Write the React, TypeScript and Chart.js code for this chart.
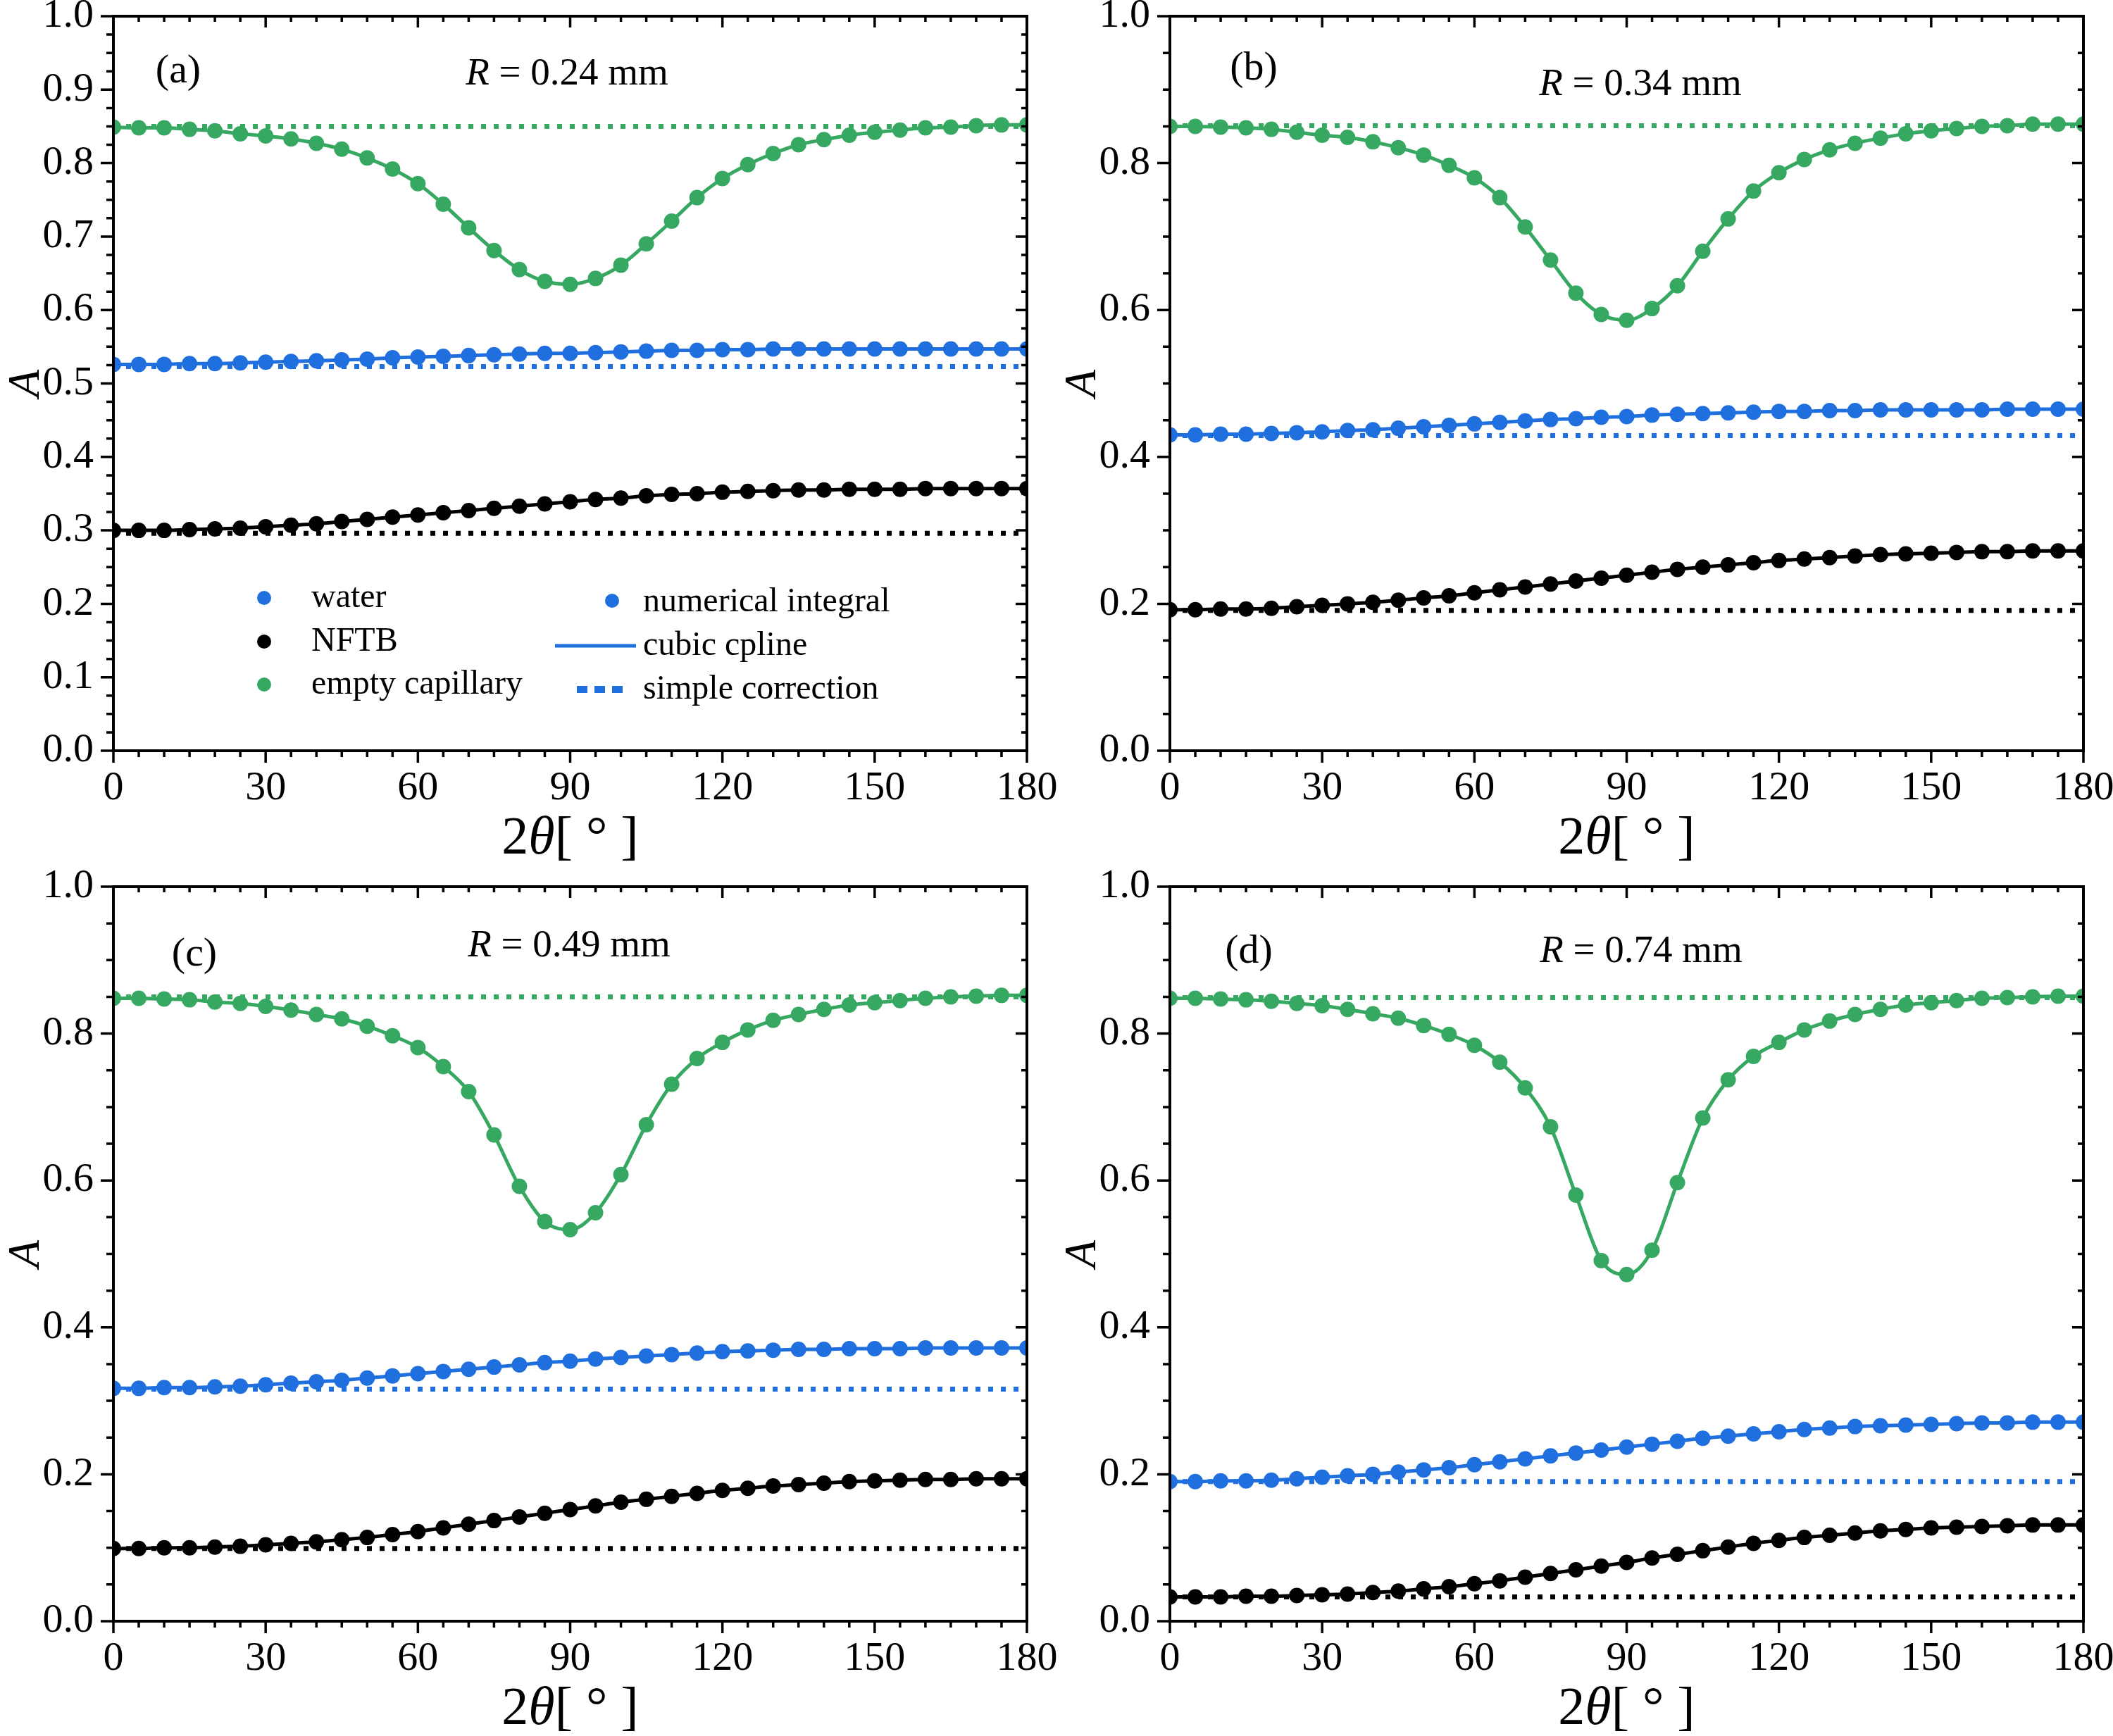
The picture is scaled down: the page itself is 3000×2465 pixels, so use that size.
import { useEffect, useRef } from "react";
import { Chart, registerables } from "chart.js";

Chart.register(...registerables);

// scattering angle 2θ in degrees
const ANGLES = [
  0, 5, 10, 15, 20, 25, 30, 35, 40, 45, 50, 55, 60, 65, 70, 75, 80, 85, 90,
  95, 100, 105, 110, 115, 120, 125, 130, 135, 140, 145, 150, 155, 160, 165, 170, 175, 180,
];

// (a) R = 0.24 mm
const WATER_A = [
  0.526, 0.526, 0.526, 0.527, 0.527, 0.528, 0.529, 0.530, 0.531, 0.532, 0.533, 0.535, 0.536,
  0.537, 0.538, 0.539, 0.540, 0.541, 0.541, 0.542, 0.543, 0.544, 0.545, 0.545, 0.546, 0.546,
  0.547, 0.547, 0.547, 0.547, 0.547, 0.547, 0.547, 0.547, 0.547, 0.547, 0.547,
];
const NFTB_A = [
  0.300, 0.300, 0.300, 0.301, 0.302, 0.303, 0.305, 0.307, 0.309, 0.312, 0.315, 0.318, 0.321,
  0.324, 0.327, 0.330, 0.333, 0.336, 0.339, 0.342, 0.344, 0.347, 0.349, 0.350, 0.352, 0.353,
  0.354, 0.355, 0.355, 0.356, 0.356, 0.356, 0.357, 0.357, 0.357, 0.357, 0.357,
];
const EMPTY_A = [
  0.849, 0.848, 0.848, 0.846, 0.844, 0.840, 0.837, 0.833, 0.827, 0.819, 0.807, 0.792, 0.772,
  0.744, 0.712, 0.681, 0.655, 0.639, 0.635, 0.643, 0.661, 0.690, 0.721, 0.753, 0.779, 0.798,
  0.813, 0.825, 0.832, 0.838, 0.842, 0.845, 0.848, 0.849, 0.851, 0.852, 0.852,
];

// (b) R = 0.34 mm
const WATER_B = [
  0.430, 0.430, 0.431, 0.431, 0.432, 0.433, 0.434, 0.436, 0.437, 0.439, 0.441, 0.443, 0.445,
  0.447, 0.449, 0.451, 0.452, 0.454, 0.455, 0.457, 0.458, 0.459, 0.460, 0.461, 0.462, 0.462,
  0.463, 0.463, 0.464, 0.464, 0.464, 0.464, 0.464, 0.465, 0.465, 0.465, 0.465,
];
const NFTB_B = [
  0.192, 0.192, 0.193, 0.193, 0.194, 0.196, 0.198, 0.200, 0.202, 0.205, 0.208, 0.211, 0.215,
  0.219, 0.223, 0.227, 0.231, 0.235, 0.239, 0.243, 0.247, 0.250, 0.253, 0.256, 0.259, 0.261,
  0.263, 0.265, 0.267, 0.268, 0.269, 0.270, 0.271, 0.271, 0.272, 0.272, 0.272,
];
const EMPTY_B = [
  0.850, 0.850, 0.849, 0.848, 0.846, 0.842, 0.838, 0.835, 0.829, 0.821, 0.811, 0.797, 0.780,
  0.753, 0.713, 0.668, 0.623, 0.594, 0.586, 0.602, 0.633, 0.680, 0.724, 0.762, 0.787, 0.805,
  0.818, 0.827, 0.834, 0.840, 0.844, 0.847, 0.850, 0.851, 0.853, 0.853, 0.853,
];

// (c) R = 0.49 mm
const WATER_C = [
  0.317, 0.317, 0.318, 0.318, 0.319, 0.320, 0.322, 0.324, 0.326, 0.328, 0.331, 0.334, 0.337,
  0.340, 0.343, 0.346, 0.349, 0.352, 0.354, 0.357, 0.359, 0.361, 0.363, 0.365, 0.367, 0.368,
  0.369, 0.370, 0.370, 0.371, 0.371, 0.371, 0.372, 0.372, 0.372, 0.372, 0.372,
];
const NFTB_C = [
  0.099, 0.099, 0.100, 0.100, 0.101, 0.102, 0.104, 0.106, 0.108, 0.111, 0.114, 0.118, 0.122,
  0.127, 0.132, 0.137, 0.142, 0.147, 0.152, 0.157, 0.162, 0.166, 0.170, 0.174, 0.178, 0.181,
  0.184, 0.186, 0.188, 0.190, 0.191, 0.192, 0.193, 0.193, 0.194, 0.194, 0.194,
];
const EMPTY_C = [
  0.848, 0.848, 0.847, 0.846, 0.843, 0.841, 0.837, 0.832, 0.826, 0.820, 0.810, 0.797, 0.781,
  0.755, 0.721, 0.662, 0.592, 0.544, 0.533, 0.556, 0.608, 0.676, 0.731, 0.766, 0.788, 0.805,
  0.818, 0.826, 0.833, 0.839, 0.842, 0.845, 0.848, 0.850, 0.851, 0.852, 0.852,
];

// (d) R = 0.74 mm
const WATER_D = [
  0.190, 0.190, 0.191, 0.191, 0.192, 0.194, 0.196, 0.198, 0.200, 0.203, 0.206, 0.209, 0.213,
  0.217, 0.221, 0.225, 0.229, 0.233, 0.237, 0.241, 0.245, 0.249, 0.252, 0.255, 0.258, 0.261,
  0.263, 0.265, 0.266, 0.267, 0.268, 0.269, 0.270, 0.270, 0.271, 0.271, 0.271,
];
const NFTB_D = [
  0.033, 0.033, 0.033, 0.034, 0.034, 0.035, 0.036, 0.037, 0.039, 0.041, 0.044, 0.047, 0.051,
  0.055, 0.060, 0.065, 0.070, 0.075, 0.080, 0.086, 0.091, 0.096, 0.101, 0.106, 0.110, 0.114,
  0.117, 0.120, 0.123, 0.125, 0.127, 0.128, 0.129, 0.130, 0.131, 0.131, 0.131,
];
const EMPTY_D = [
  0.848, 0.848, 0.847, 0.846, 0.844, 0.841, 0.838, 0.833, 0.827, 0.821, 0.811, 0.799, 0.784,
  0.761, 0.726, 0.673, 0.580, 0.491, 0.472, 0.505, 0.597, 0.685, 0.737, 0.769, 0.788, 0.805,
  0.817, 0.826, 0.833, 0.839, 0.842, 0.845, 0.848, 0.849, 0.850, 0.851, 0.851,
];

// simple correction levels: water, NFTB, empty capillary
const SIMPLE_A = [0.523, 0.296, 0.850];
const SIMPLE_B = [0.429, 0.191, 0.851];
const SIMPLE_C = [0.316, 0.099, 0.850];
const SIMPLE_D = [0.190, 0.033, 0.849];

const PANEL_TAGS = ["(a)", "(b)", "(c)", "(d)"];
const RADII = ["0.24", "0.34", "0.49", "0.74"];
const Y_MAJOR = [0.1, 0.2, 0.2, 0.2];
const Y_MINOR = [0.025, 0.05, 0.05, 0.05];
const X_MAJOR = 30;
const X_MINOR = 5;

const SERIES_NAMES = ["water", "NFTB", "empty capillary"];
const METHOD_NAMES = ["numerical integral", "cubic cpline", "simple correction"];

const BLUE = "#1f6fdf";
const BLACK = "#000000";
const GREEN = "#37a862";
const COLORS = [BLUE, BLACK, GREEN];
const SERIF = "'Liberation Serif', 'Times New Roman', serif";

const PANELS = [
  { values: [WATER_A, NFTB_A, EMPTY_A], simple: SIMPLE_A },
  { values: [WATER_B, NFTB_B, EMPTY_B], simple: SIMPLE_B },
  { values: [WATER_C, NFTB_C, EMPTY_C], simple: SIMPLE_C },
  { values: [WATER_D, NFTB_D, EMPTY_D], simple: SIMPLE_D },
];

// layout per panel (canvas box + annotation spots, all in px)
const BOXES = [
  { left: 0, top: 0, width: 1500, height: 1232, areaTop: 23, areaBottom: 1066, tag: [253, 102], r: [805, 106] },
  { left: 1500, top: 0, width: 1500, height: 1232, areaTop: 23, areaBottom: 1066, tag: [280, 98], r: [829, 121] },
  { left: 0, top: 1232, width: 1500, height: 1233, areaTop: 27, areaBottom: 1070, tag: [276, 124], r: [808, 112] },
  { left: 1500, top: 1232, width: 1500, height: 1233, areaTop: 27, areaBottom: 1070, tag: [273, 120], r: [830, 120] },
];

const AREA_LEFT = 161;
const AREA_RIGHT_PAD = 42;

function drawFrame(chart: any, yMajor: number, yMinor: number) {
  const { ctx, chartArea: a, scales } = chart;
  const xs = scales.x;
  const ys = scales.y;
  ctx.save();
  ctx.strokeStyle = "#000";
  ctx.lineCap = "butt";
  ctx.lineWidth = 3.5;
  ctx.beginPath();
  const nx = Math.round((xs.max - xs.min) / X_MINOR);
  const px = Math.round(X_MAJOR / X_MINOR);
  for (let k = 0; k <= nx; k++) {
    const p = xs.getPixelForValue(xs.min + k * X_MINOR);
    const major = k % px === 0;
    ctx.moveTo(p, a.bottom);
    ctx.lineTo(p, a.bottom + (major ? 17 : 9));
    ctx.moveTo(p, a.top);
    ctx.lineTo(p, a.top + (major ? 16 : 8));
  }
  const ny = Math.round((ys.max - ys.min) / yMinor);
  const py = Math.round(yMajor / yMinor);
  for (let k = 0; k <= ny; k++) {
    const p = ys.getPixelForValue(ys.min + k * yMinor);
    const major = k % py === 0;
    ctx.moveTo(a.left, p);
    ctx.lineTo(a.left - (major ? 18 : 10), p);
    ctx.moveTo(a.right, p);
    ctx.lineTo(a.right - (major ? 16 : 8), p);
  }
  ctx.stroke();
  ctx.lineWidth = 4;
  ctx.strokeRect(a.left, a.top, a.right - a.left, a.bottom - a.top);
  ctx.restore();
}

function drawTexts(chart: any, idx: number) {
  const { ctx, chartArea: a } = chart;
  const box = BOXES[idx];
  ctx.save();
  ctx.fillStyle = "#000";
  ctx.textBaseline = "middle";

  // panel tag
  ctx.font = `58px ${SERIF}`;
  ctx.textAlign = "center";
  ctx.fillText(PANEL_TAGS[idx], box.tag[0], box.tag[1]);

  // R = ... mm
  ctx.textAlign = "left";
  const rest = ` = ${RADII[idx]} mm`;
  ctx.font = `italic 55px ${SERIF}`;
  const wR = ctx.measureText("R").width;
  ctx.font = `55px ${SERIF}`;
  const wRest = ctx.measureText(rest).width;
  const x0 = box.r[0] - (wR + wRest) / 2;
  ctx.font = `italic 55px ${SERIF}`;
  ctx.fillText("R", x0, box.r[1]);
  ctx.font = `55px ${SERIF}`;
  ctx.fillText(rest, x0 + wR, box.r[1]);

  // x title: 2θ[ ° ]
  const parts: [string, boolean][] = [["2", false], ["θ", true], ["[ ° ]", false]];
  let total = 0;
  for (const [t, it] of parts) {
    ctx.font = `${it ? "italic " : ""}76px ${SERIF}`;
    total += ctx.measureText(t).width;
  }
  let cx = (a.left + a.right) / 2 - total / 2;
  const ty = a.bottom + 126;
  for (const [t, it] of parts) {
    ctx.font = `${it ? "italic " : ""}76px ${SERIF}`;
    ctx.fillText(t, cx, ty);
    cx += ctx.measureText(t).width;
  }

  // y title: A
  ctx.save();
  ctx.translate(38, (a.top + a.bottom) / 2);
  ctx.rotate(-Math.PI / 2);
  ctx.textAlign = "center";
  ctx.font = `italic 64px ${SERIF}`;
  ctx.fillText("A", 0, 0);
  ctx.restore();

  // legend only in panel (a)
  if (idx === 0) {
    ctx.font = `48px ${SERIF}`;
    ctx.textAlign = "left";
    const rows = [849, 911, 972];
    SERIES_NAMES.forEach((name, i) => {
      ctx.fillStyle = COLORS[i];
      ctx.beginPath();
      ctx.arc(375, rows[i], 10, 0, Math.PI * 2);
      ctx.fill();
      ctx.fillStyle = "#000";
      ctx.fillText(name, 442, rows[i]);
    });
    const rows2 = [855, 917, 979];
    ctx.fillStyle = BLUE;
    ctx.beginPath();
    ctx.arc(869, rows2[0] - 2, 10, 0, Math.PI * 2);
    ctx.fill();
    ctx.strokeStyle = BLUE;
    ctx.lineWidth = 5;
    ctx.beginPath();
    ctx.moveTo(788, rows2[1]);
    ctx.lineTo(903, rows2[1]);
    ctx.stroke();
    ctx.lineWidth = 10;
    ctx.setLineDash([15, 10]);
    ctx.beginPath();
    ctx.moveTo(819, rows2[2]);
    ctx.lineTo(884, rows2[2]);
    ctx.stroke();
    ctx.setLineDash([]);
    ctx.fillStyle = "#000";
    METHOD_NAMES.forEach((name, i) => ctx.fillText(name, 913, rows2[i]));
  }
  ctx.restore();
}

function Panel({ idx }: { idx: number }) {
  const canvasRef = useRef<HTMLCanvasElement>(null);
  const chartRef = useRef<Chart | null>(null);
  const box = BOXES[idx];

  useEffect(() => {
    if (!canvasRef.current) return;
    if (chartRef.current) chartRef.current.destroy();
    const ctx = canvasRef.current.getContext("2d");
    if (!ctx) return;

    const panel = PANELS[idx];
    const curves = panel.values.map((vals, i) => ({
      label: SERIES_NAMES[i],
      data: ANGLES.map((x, j) => ({ x, y: vals[j] })),
      borderColor: COLORS[i],
      backgroundColor: COLORS[i],
      pointBackgroundColor: COLORS[i],
      borderWidth: 5,
      pointRadius: 11,
      pointBorderWidth: 0,
      cubicInterpolationMode: "monotone" as const,
      clip: 0,
    }));
    const dotted = panel.simple.map((level, i) => ({
      label: SERIES_NAMES[i] + " simple",
      data: [
        { x: ANGLES[0], y: level },
        { x: ANGLES[ANGLES.length - 1], y: level },
      ],
      borderColor: COLORS[i],
      borderWidth: 7,
      borderDash: [7, 11],
      borderCapStyle: "butt" as const,
      pointRadius: 0,
      clip: 0,
    }));

    const tickFont = { family: SERIF, size: 58 };

    chartRef.current = new Chart(ctx, {
      type: "line",
      data: { datasets: [...curves, ...dotted] as any },
      options: {
        responsive: false,
        devicePixelRatio: 1,
        animation: false,
        layout: {
          padding: { top: box.areaTop, right: AREA_RIGHT_PAD, bottom: 0, left: 0 },
        },
        plugins: {
          legend: { display: false },
          tooltip: { enabled: false },
        },
        scales: {
          x: {
            type: "linear",
            min: 0,
            max: 180,
            ticks: { stepSize: X_MAJOR, padding: 19, color: "#000", font: tickFont, maxRotation: 0, autoSkip: false },
            grid: { display: false, drawTicks: false },
            border: { display: false },
            afterFit: (s: any) => {
              s.height = box.height - box.areaBottom;
              s.paddingLeft = 0;
              s.paddingRight = 0;
            },
          },
          y: {
            type: "linear",
            min: 0,
            max: 1,
            ticks: {
              stepSize: Y_MAJOR[idx],
              padding: 28,
              color: "#000",
              font: tickFont,
              callback: (v: any) => Number(v).toFixed(1),
            },
            grid: { display: false, drawTicks: false },
            border: { display: false },
            afterFit: (s: any) => {
              s.width = AREA_LEFT;
              s.paddingTop = 0;
              s.paddingBottom = 0;
            },
          },
        },
      },
      plugins: [
        {
          id: "frameAndText",
          afterDraw: (chart: any) => {
            drawFrame(chart, Y_MAJOR[idx], Y_MINOR[idx]);
            drawTexts(chart, idx);
          },
        },
      ],
    });

    return () => {
      if (chartRef.current) {
        chartRef.current.destroy();
        chartRef.current = null;
      }
    };
  }, [idx]);

  return (
    <div style={{ position: "absolute", left: box.left, top: box.top, width: box.width, height: box.height }}>
      <canvas ref={canvasRef} width={box.width} height={box.height} style={{ width: box.width, height: box.height }} />
    </div>
  );
}

export default function App() {
  return (
    <div style={{ position: "absolute", left: 0, top: 0, width: 3000, height: 2465, background: "#fff" }}>
      {PANELS.map((_, i) => (
        <Panel key={i} idx={i} />
      ))}
    </div>
  );
}
